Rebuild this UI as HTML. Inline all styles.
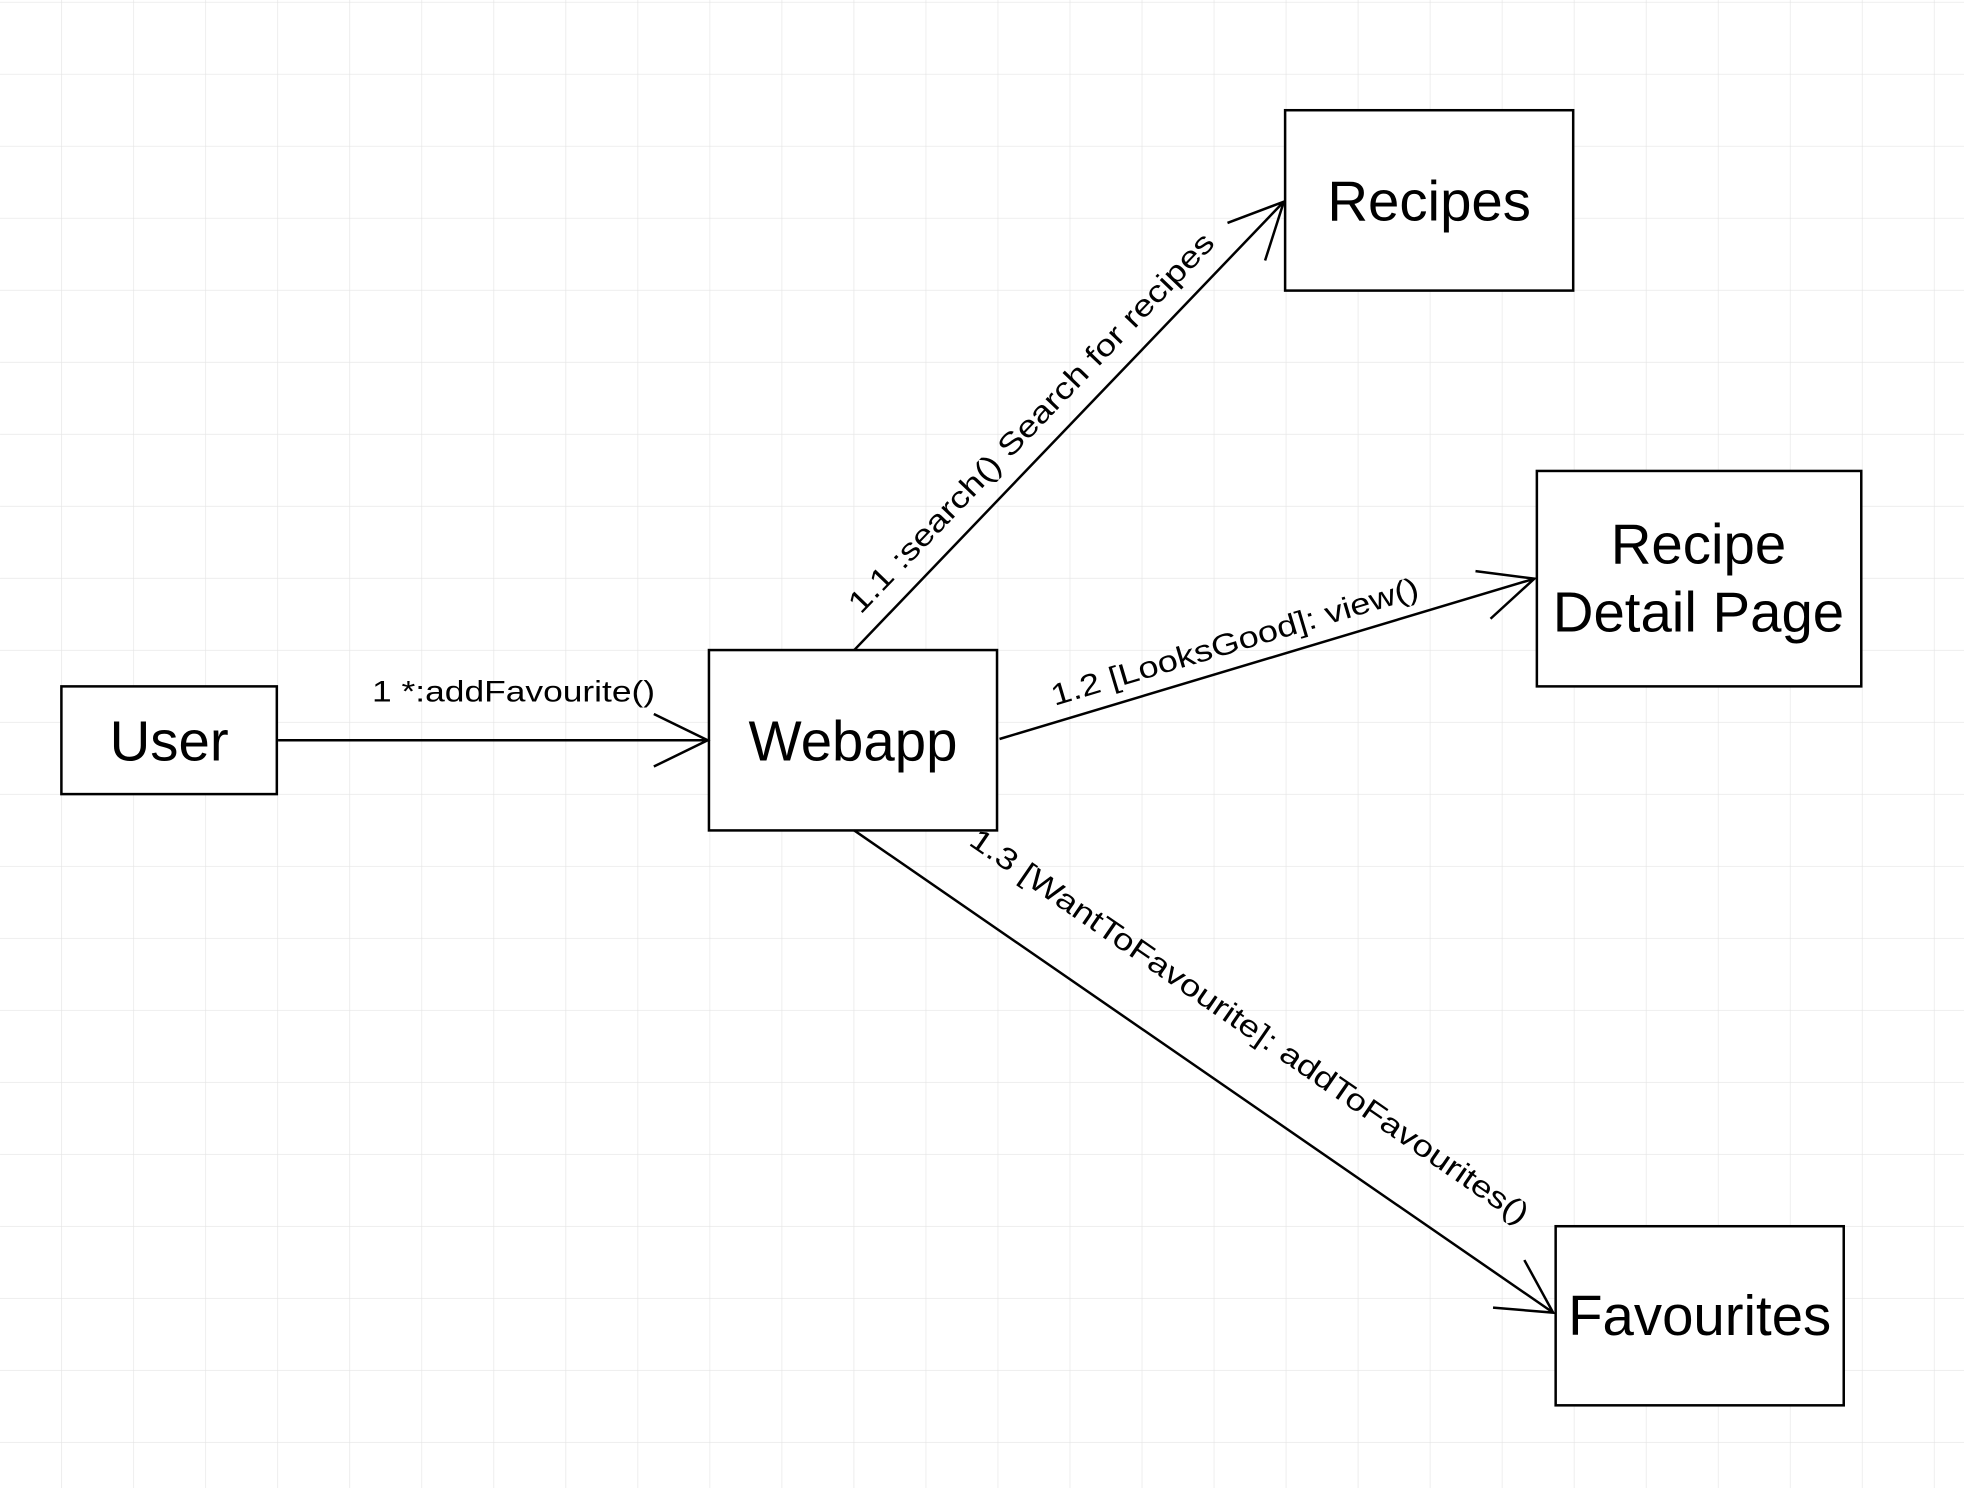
<!DOCTYPE html>
<html><head><style>html,body{margin:0;padding:0;background:#fff}svg{display:block}</style></head><body>
<svg width="1964" height="1488" viewBox="0 0 1568 1188" xmlns="http://www.w3.org/2000/svg" font-family="Liberation Sans, Arial, sans-serif">
<defs>
<pattern id="g" width="57.5" height="57.5" patternUnits="userSpaceOnUse" x="-8" y="2">
<path d="M57.5 0V57.5M0 57.5H57.5" stroke="#e4e4e4" stroke-width="1" fill="none"/>
</pattern>
</defs>
<rect width="1568" height="1188" fill="url(#g)"/>
<g fill="#fff" stroke="#000" stroke-width="2">
<rect x="49" y="548" width="172" height="86"/>
<rect x="566" y="519" width="230" height="144"/>
<rect x="1026" y="88" width="230" height="144"/>
<rect x="1227" y="376" width="259" height="172"/>
<rect x="1242" y="979" width="230" height="143"/>
</g>
<g fill="none" stroke="#000" stroke-width="2">
<path d="M222 591H565M522 570L565 591L522 612"/>
<path d="M682 519L1025 161M980 178L1025 161L1010 208"/>
<path d="M798 590L1225 462M1178 456L1225 462L1190 494"/>
<path d="M682 663L1240 1048M1192 1044L1240 1048L1217 1006"/>
</g>
<g font-size="45" text-anchor="middle" fill="#000">
<text x="135" y="607">User</text>
<text x="681" y="607">Webapp</text>
<text x="1141" y="176">Recipes</text>
<text x="1356" y="450">Recipe</text>
<text x="1356" y="504">Detail Page</text>
<text x="1357" y="1066">Favourites</text>
</g>
<g font-size="24" text-anchor="middle" fill="#000">
<text x="410" y="560" textLength="226" lengthAdjust="spacingAndGlyphs">1 *:addFavourite()</text>
<text transform="translate(829,343) rotate(-46.2)" textLength="410" lengthAdjust="spacingAndGlyphs">1.1 :search() Search for recipes</text>
<text transform="translate(988,520) rotate(-16.6)" textLength="305" lengthAdjust="spacingAndGlyphs">1.2 [LooksGood]: view()</text>
<text transform="translate(993,826) rotate(34.6)" textLength="536" lengthAdjust="spacingAndGlyphs">1.3 [WantToFavourite]: addToFavourites()</text>
</g>
</svg>
</body></html>
